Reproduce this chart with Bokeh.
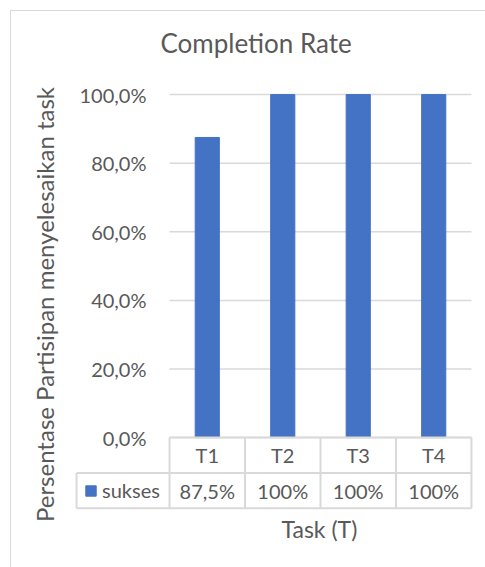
from bokeh.plotting import figure
from bokeh.models import FixedTicker, Legend, LegendItem, Title, Range1d
from bokeh.core.properties import value
from bokeh.embed import file_html
from bokeh.resources import INLINE

# --- data -------------------------------------------------------------
tasks = ["T1", "T2", "T3", "T4"]
sukses = [87.5, 100, 100, 100]          # completion rate per task, in %
y_ticks = [0, 20, 40, 60, 80, 100]

series_name = "sukses"
title_text = "Completion Rate"
y_title = "Persentase Partisipan menyelesaikan task"
x_title = "Task (T)"

# --- styling ----------------------------------------------------------
FONT = "Lato"
TXT = "#595959"
GRID = "#D9D9D9"
BAR = "#4472C4"

ROW = 10.3          # height of one data-table row, in axis units (%)
LEGEND_COL = 1.232  # width of the legend column, in category widths

xs = list(range(1, len(tasks) + 1))
x_lo, x_hi = 0.5, len(tasks) + 0.5
leg_left = x_lo - LEGEND_COL

tick_labels = {t: f"{t:.1f}%".replace(".", ",") for t in y_ticks}
value_labels = [f"{v:g}%".replace(".", ",") for v in sukses]

p = figure(width=475, height=557, output_backend="svg", toolbar_location=None, tools="",
           title=None,
           x_range=Range1d(leg_left - 0.027, x_hi + 0.027),
           y_range=Range1d(-23.3, 100.9),
           min_border_left=63, min_border_right=13, min_border_top=80, min_border_bottom=51,
           background_fill_color="white", border_fill_color="white",
           outline_line_color=None)
p.margin = (10, 0, 0, 10)
p.styles = {"border-left": f"1px solid {GRID}", "border-top": f"1px solid {GRID}"}

# blank band between the frame and the chart title, then the title itself
p.add_layout(Title(text=" ", text_font=FONT, text_font_size="26px", standoff=-1), "above")
p.add_layout(Title(text=title_text, align="left", offset=86, text_font=FONT,
                   text_font_size="26px", text_font_style="normal", text_color=TXT,
                   standoff=0), "above")

# value axis
yax = p.yaxis[0]
yax.ticker = FixedTicker(ticks=y_ticks)
yax.major_label_overrides = tick_labels
yax.axis_line_color = None
yax.major_tick_line_color = None
yax.minor_tick_line_color = None
yax.major_tick_out = 0
yax.major_label_standoff = -72
yax.major_label_text_font = FONT
yax.major_label_text_font_size = "20px"
yax.major_label_text_color = TXT
yax.axis_label = y_title
yax.axis_label_text_font = FONT
yax.axis_label_text_font_size = "24px"
yax.axis_label_text_font_style = "normal"
yax.axis_label_text_color = TXT
yax.axis_label_standoff = 18

p.xaxis.visible = False
p.xgrid.visible = False
p.ygrid.visible = False

# horizontal gridlines over the category area
p.segment(x0=[x_lo] * len(y_ticks), x1=[x_hi] * len(y_ticks), y0=y_ticks, y1=y_ticks,
          line_color=GRID, line_width=1.5)

# bars
bars = p.vbar(x=xs, top=sukses, bottom=0, width=0.32, color=BAR)

# data table under the plot: horizontal rules
p.segment(x0=[x_lo, leg_left, leg_left], x1=[x_hi] * 3,
          y0=[0, -ROW, -2 * ROW], y1=[0, -ROW, -2 * ROW],
          line_color=GRID, line_width=2)
# vertical rules
bounds = [x_lo + i for i in range(len(tasks) + 1)]
p.segment(x0=bounds + [leg_left], x1=bounds + [leg_left],
          y0=[0] * len(bounds) + [-ROW], y1=[-2 * ROW] * (len(bounds) + 1),
          line_color=GRID, line_width=2)

# table text
p.text(x=xs, y=[-ROW / 2] * len(xs), text=tasks, text_align="center",
       text_baseline="middle", text_font=value(FONT), text_font_size="20px", text_color=TXT)
p.text(x=xs, y=[-1.5 * ROW] * len(xs), text=value_labels, text_align="center",
       text_baseline="middle", text_font=value(FONT), text_font_size="20px", text_color=TXT)

# legend key inside the table's first column
legend = Legend(items=[LegendItem(label=series_name, renderers=[bars])],
                location=(10, 15), padding=0, margin=0, spacing=0,
                border_line_color=None, background_fill_alpha=0,
                glyph_width=13, glyph_height=13, label_standoff=5,
                label_text_font=FONT, label_text_font_size="20px", label_text_color=TXT)
p.add_layout(legend)

# category-axis title
p.add_layout(Title(text=x_title, align="left", offset=207, text_font=FONT,
                   text_font_size="23px", text_font_style="normal", text_color=TXT,
                   standoff=-10), "below")

open("out.html", "w").write(file_html(p, INLINE))
